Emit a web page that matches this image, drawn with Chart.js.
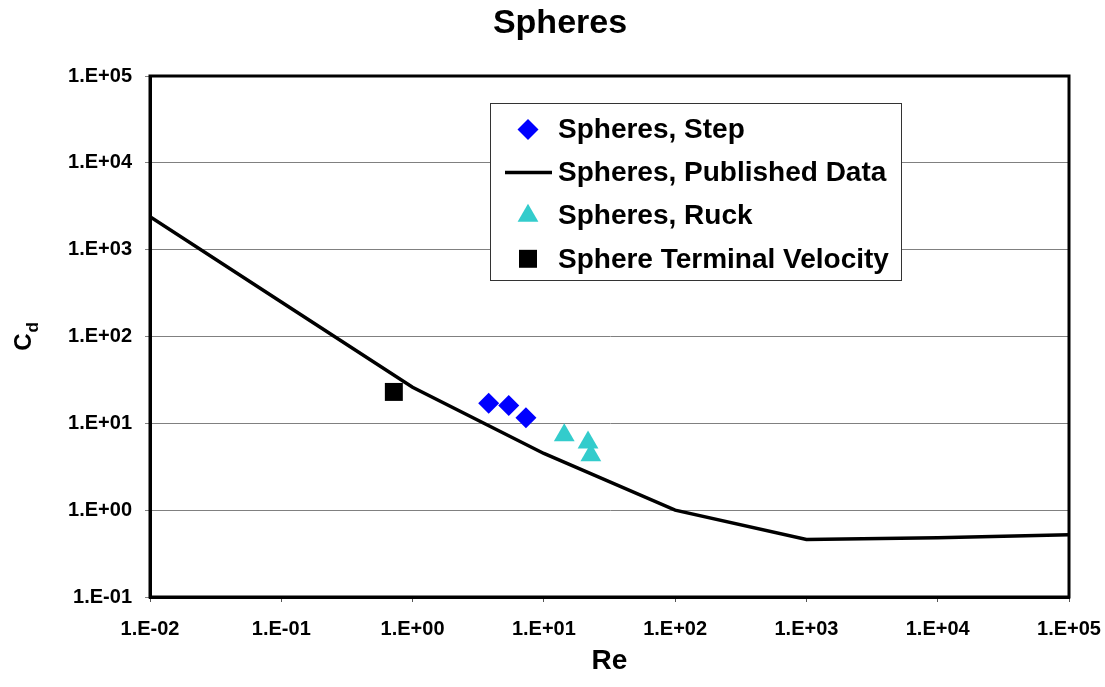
<!DOCTYPE html>
<html>
<head>
<meta charset="utf-8">
<script src="https://cdn.jsdelivr.net/npm/chart.js@4"></script>
<style>
  html, body { margin: 0; padding: 0; background: #fff; }
</style>
</head>
<body>
<canvas id="chart" width="1105" height="687"></canvas>
<script>
// data
const publishedRe = [0.01, 0.1, 1, 10, 100, 1000, 10000, 100000];
const publishedCd = [2400, 250, 26, 4.5, 1.0, 0.46, 0.48, 0.52];

const stepRe = [3.8, 5.4, 7.3];
const stepCd = [17, 16, 11.6];

const ruckRe = [14.3, 21.7, 22.8];
const ruckCd = [7.3, 6.0, 4.3];

const terminalRe = [0.72];
const terminalCd = [23];

const xTickValues = [1e-2, 1e-1, 1e0, 1e1, 1e2, 1e3, 1e4, 1e5];
const xTickLabels = ['1.E-02', '1.E-01', '1.E+00', '1.E+01', '1.E+02', '1.E+03', '1.E+04', '1.E+05'];
const yTickValues = [1e-1, 1e0, 1e1, 1e2, 1e3, 1e4, 1e5];
const yTickLabels = ['1.E-01', '1.E+00', '1.E+01', '1.E+02', '1.E+03', '1.E+04', '1.E+05'];

const FONT = '"Liberation Sans", Arial, sans-serif';

function pts(xs, ys) {
  return xs.map((x, i) => ({ x: x, y: ys[i] }));
}

// title, centred like the original
const titleText = {
  id: 'titleText',
  afterDraw(chart) {
    const ctx = chart.ctx;
    ctx.save();
    ctx.fillStyle = '#000';
    ctx.font = 'bold 34px ' + FONT;
    ctx.textAlign = 'center';
    ctx.textBaseline = 'alphabetic';
    ctx.fillText('Spheres', 560, 33);
    ctx.restore();
  }
};

// top/right frame of the plot area
const frame = {
  id: 'frame',
  afterDatasetsDraw(chart) {
    const a = chart.chartArea;
    const ctx = chart.ctx;
    ctx.save();
    ctx.strokeStyle = '#000';
    ctx.lineWidth = 3;
    ctx.strokeRect(a.left, a.top, a.right - a.left, a.bottom - a.top);
    ctx.restore();
  }
};

// legend box inside the plot
const legendBox = {
  id: 'legendBox',
  afterDraw(chart) {
    const ctx = chart.ctx;
    const x0 = 490, y0 = 103, w = 411, h = 177;
    ctx.save();
    ctx.fillStyle = '#fff';
    ctx.fillRect(x0, y0, w, h);
    ctx.strokeStyle = '#333';
    ctx.lineWidth = 1;
    ctx.strokeRect(x0 + 0.5, y0 + 0.5, w, h);
    ctx.font = 'bold 28px ' + FONT;
    ctx.textBaseline = 'middle';
    chart.data.datasets.forEach((ds, i) => {
      const cy = y0 + 26.5 + i * 43.1;
      if (ds.showLine) {
        ctx.strokeStyle = ds.borderColor;
        ctx.lineWidth = ds.borderWidth;
        ctx.beginPath();
        ctx.moveTo(505, cy);
        ctx.lineTo(552, cy);
        ctx.stroke();
      } else {
        ctx.fillStyle = ds.backgroundColor;
        ctx.strokeStyle = ds.borderColor;
        Chart.helpers.drawPoint(ctx, {
          pointStyle: ds.pointStyle,
          radius: ds.pointRadius,
          borderWidth: ds.borderWidth,
          rotation: 0
        }, 528, cy);
      }
      ctx.fillStyle = '#000';
      ctx.fillText(ds.label, 558, cy + 1);
    });
    ctx.restore();
  }
};

// y title with subscript
const yTitle = {
  id: 'yTitle',
  afterDraw(chart) {
    const ctx = chart.ctx;
    ctx.save();
    ctx.translate(31, 337);
    ctx.rotate(-Math.PI / 2);
    ctx.fillStyle = '#000';
    ctx.textBaseline = 'alphabetic';
    ctx.font = 'bold 24px ' + FONT;
    const w1 = ctx.measureText('C').width;
    ctx.font = 'bold 17px ' + FONT;
    const w2 = ctx.measureText('d').width;
    const start = -(w1 + w2) / 2;
    ctx.font = 'bold 24px ' + FONT;
    ctx.fillText('C', start, 0);
    ctx.font = 'bold 17px ' + FONT;
    ctx.fillText('d', start + w1 + 1, 7);
    ctx.restore();
  }
};

new Chart(document.getElementById('chart'), {
  type: 'scatter',
  data: {
    datasets: [
      {
        label: 'Spheres, Step',
        data: pts(stepRe, stepCd),
        pointStyle: 'rectRot',
        pointRadius: 10.5,
        borderWidth: 0,
        backgroundColor: '#0000ff',
        borderColor: '#0000ff'
      },
      {
        label: 'Spheres, Published Data',
        data: pts(publishedRe, publishedCd),
        showLine: true,
        pointRadius: 0,
        borderWidth: 3.5,
        borderColor: '#000',
        backgroundColor: '#000',
        tension: 0
      },
      {
        label: 'Spheres, Ruck',
        data: pts(ruckRe, ruckCd),
        pointStyle: 'triangle',
        pointRadius: 12,
        borderWidth: 0,
        backgroundColor: '#33cccc',
        borderColor: '#33cccc'
      },
      {
        label: 'Sphere Terminal Velocity',
        data: pts(terminalRe, terminalCd),
        pointStyle: 'rect',
        pointRadius: 12.7,
        borderWidth: 0,
        backgroundColor: '#000',
        borderColor: '#000'
      }
    ]
  },
  options: {
    responsive: false,
    animation: false,
    layout: { padding: { left: 0, right: 36, top: 76, bottom: 0 } },
    plugins: {
      legend: { display: false },
      tooltip: { enabled: false },
      title: { display: false }
    },
    scales: {
      x: {
        type: 'logarithmic',
        min: 0.01,
        max: 100000,
        afterFit(scale) {
          scale.height = 90;
          scale.paddingLeft = 0;
          scale.paddingRight = 0;
        },
        afterBuildTicks(scale) { scale.ticks = xTickValues.map(v => ({ value: v })); },
        grid: { drawOnChartArea: false, drawTicks: true, tickLength: 5, color: '#555' },
        border: { display: true, color: '#000', width: 3 },
        ticks: {
          autoSkip: false,
          maxRotation: 0,
          padding: 15,
          color: '#000',
          font: { family: FONT, size: 20, weight: 'bold' },
          callback: (v, i) => xTickLabels[i]
        },
        title: {
          display: true,
          text: 'Re',
          color: '#000',
          font: { family: FONT, size: 28, weight: 'bold' },
          padding: { top: 0, bottom: 9 }
        }
      },
      y: {
        type: 'logarithmic',
        min: 0.1,
        max: 100000,
        afterFit(scale) {
          scale.width = 150;
          scale.paddingTop = 0;
          scale.paddingBottom = 0;
        },
        afterBuildTicks(scale) { scale.ticks = yTickValues.map(v => ({ value: v })); },
        grid: { drawOnChartArea: true, drawTicks: true, tickLength: 5, color: '#808080', lineWidth: 1 },
        border: { display: true, color: '#000', width: 3 },
        ticks: {
          autoSkip: false,
          padding: 13,
          color: '#000',
          font: { family: FONT, size: 20, weight: 'bold' },
          callback: (v, i) => yTickLabels[i]
        }
      }
    }
  },
  plugins: [frame, legendBox, yTitle, titleText]
});
</script>
</body>
</html>
